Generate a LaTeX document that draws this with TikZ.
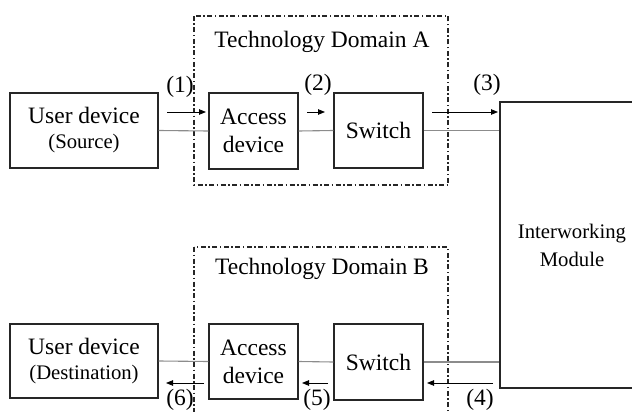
\documentclass[tikz,border=0pt]{standalone}
\usepackage{fontspec}
\setmainfont{Liberation Serif}
\usetikzlibrary{arrows.meta,calc}
\newcommand\smallfs{\fontsize{20.7pt}{26pt}\selectfont}
\begin{document}
\begin{tikzpicture}[x=1pt,y=-1pt,
  big/.style={font=\fontsize{23.5pt}{28pt}\selectfont},
  box/.style={draw=black!85,line width=1.3pt,inner sep=0pt,align=center,big},
  link/.style={draw=black!45,line width=1.1pt},
  flow/.style={draw=black,line width=0.8pt,-{Triangle[length=7pt,width=5.5pt]}},
  techdom/.style={draw=black!85,line width=1.1pt,dash pattern=on 5pt off 2.5pt on 1.5pt off 2.5pt},
  lbl/.style={inner sep=0pt,big}]
\clip (0,0) rectangle (632,412);
% domains
\draw[techdom] (194,16) rectangle (448,185);
\draw[techdom] (194,247) rectangle (448,430);
\node[lbl] (ta) at (322,42) {Technology Domain A};
\node[lbl] (tb) at (322,269) {Technology Domain B};
% boxes
\node[box,minimum width=148pt,minimum height=75pt] (usrc) at (84,130.5) {User device\\[-3pt]{\smallfs (Source)}};
\node[box,minimum width=89pt,minimum height=76pt] (acca) at (253.5,131) {Access\\device};
\node[box,minimum width=89pt,minimum height=75pt] (swa) at (378.5,130.5) {Switch};
\node[box,minimum width=144pt,minimum height=286pt] (mod) at (572,245) {\smallfs Interworking\\\smallfs Module};
\node[box,minimum width=148pt,minimum height=74pt] (udst) at (84,361) {User device\\[-3pt]{\smallfs (Destination)}};
\node[box,minimum width=89pt,minimum height=75pt] (accb) at (253.5,361.5) {Access\\device};
\node[box,minimum width=89pt,minimum height=76pt] (swb) at (378.5,362) {Switch};
% links
\draw[link] (usrc.east) -- (acca.west);
\draw[link] (acca.east) -- (swa.west);
\draw[link] (swa.east) -- (swa.east -| mod.west);
\draw[link] (udst.east) -- (accb.west);
\draw[link] (accb.east) -- (swb.west);
\draw[link] (swb.east) -- (swb.east -| mod.west);
% flow coordinates
\coordinate (a1s) at (167,112); \coordinate (a1e) at (206,112);
\coordinate (a2s) at (307,112); \coordinate (a2e) at (325,112);
\coordinate (a3s) at (432,112); \coordinate (a3e) at (498,112);
\coordinate (a4s) at (493,383); \coordinate (a4e) at (427,383);
\coordinate (a5s) at (328,383); \coordinate (a5e) at (302,383);
\coordinate (a6s) at (204,383); \coordinate (a6e) at (166,383);
\draw[flow] (a1s) -- (a1e);
\draw[flow] (a2s) -- (a2e);
\draw[flow] (a3s) -- (a3e);
\draw[flow] (a4s) -- (a4e);
\draw[flow] (a5s) -- (a5e);
\draw[flow] (a6s) -- (a6e);
% labels
\node[lbl] (l1) at (180,87) {(1)};
\node[lbl] (l2) at (318,85) {(2)};
\node[lbl] (l3) at (487,85) {(3)};
\node[lbl] (l4) at (480,400) {(4)};
\node[lbl] (l5) at (317,400) {(5)};
\node[lbl] (l6) at (180,400) {(6)};
\end{tikzpicture}
\end{document}
